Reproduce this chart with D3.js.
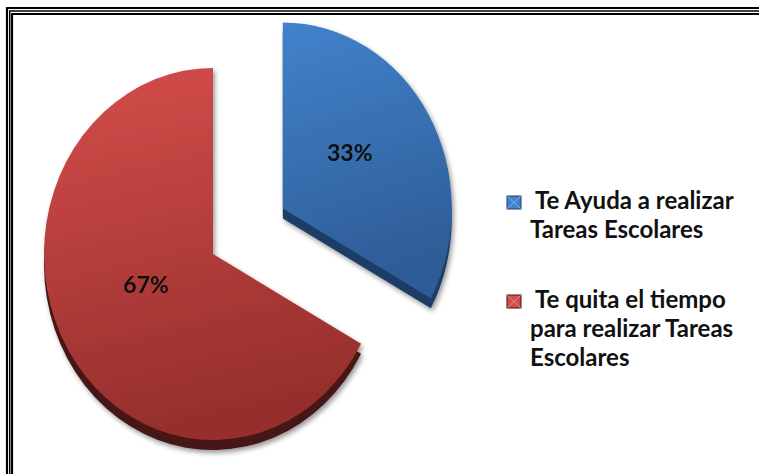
<!DOCTYPE html>
<html>
<head>
<meta charset="utf-8">
<script src="https://cdn.jsdelivr.net/npm/d3@7"></script>
<style>
  html, body { margin: 0; padding: 0; background: #fff; }
  svg { display: block; }
  text { font-family: Lato, "Open Sans", sans-serif; font-weight: bold; fill: #111; }
</style>
</head>
<body>
<script>
const W = 759, H = 474;
// data
const categories = ["Te Ayuda a realizar Tareas Escolares", "Te quita el tiempo para realizar Tareas Escolares"];
const values = [33, 67];
const legendLines = [["Te Ayuda a realizar", "Tareas Escolares"], ["Te quita el tiempo", "para realizar Tareas", "Escolares"]];
const topColors = [["#4282cc", "#2d5c96"], ["#d44d4b", "#962f2d"]];
const sideColors = ["#1f3d66", "#461313"];

const CX = 213, CY = 254, RX = 169, RY = 186, DEPTH = 10, EXPLODE = [0.48, 0];

const svg = d3.select("body").append("svg").attr("width", W).attr("height", H);
const defs = svg.append("defs");

topColors.forEach((c, i) => {
  let g = defs.append("linearGradient").attr("id", "grad" + i)
    .attr("x1", 0).attr("y1", 0).attr("x2", 0.2).attr("y2", 1);
  g.append("stop").attr("offset", "0%").attr("stop-color", c[0]);
  g.append("stop").attr("offset", "100%").attr("stop-color", c[1]);
});

let shadow = defs.append("filter").attr("id", "shadow")
  .attr("x", "-10%").attr("y", "-10%").attr("width", "130%").attr("height", "130%");
shadow.append("feDropShadow").attr("dx", 2).attr("dy", 3).attr("stdDeviation", 2.5)
  .attr("flood-color", "#000").attr("flood-opacity", 0.4);

// frame: three nested lines at top / left
const frame = svg.append("g").attr("fill", "none").attr("stroke", "#000");
[[7, 8, 2.2], [9.7, 11, 1.4], [12, 14, 2.2]].forEach(([x, y, w]) => {
  frame.append("path").attr("d", `M${x},${H} L${x},${y} L${W},${y}`).attr("stroke-width", w);
});

const pie = d3.pie().sort(null).value(d => d);
const arcs = pie(values);
const arc = d3.arc().innerRadius(0).outerRadius(1);

const slices = svg.append("g").attr("filter", "url(#shadow)")
  .selectAll("g").data(arcs).enter().append("g")
  .attr("transform", (d, i) => {
    let m = (d.startAngle + d.endAngle) / 2;
    let ox = EXPLODE[i] * RX * Math.sin(m), oy = -EXPLODE[i] * RY * Math.cos(m);
    return `translate(${CX + ox},${CY + oy})`;
  });

// side (depth) of the slice
slices.append("path")
  .attr("transform", `translate(0,${DEPTH}) scale(${RX},${RY})`)
  .attr("d", arc)
  .attr("fill", (d, i) => sideColors[i]);

// top face
slices.append("path")
  .attr("transform", `scale(${RX},${RY})`)
  .attr("d", arc)
  .attr("fill", (d, i) => `url(#grad${i})`);

slices.append("text")
  .attr("x", d => 0.46 * RX * Math.sin((d.startAngle + d.endAngle) / 2))
  .attr("y", d => -0.46 * RY * Math.cos((d.startAngle + d.endAngle) / 2) - 10)
  .attr("text-anchor", "middle")
  .attr("dominant-baseline", "middle")
  .style("font-size", "23px")
  .text(d => Math.round(d.data) + "%");

// legend
const legendY = d3.scalePoint().domain(categories).range([209, 308]);
const legend = svg.append("g").selectAll("g").data(categories).enter().append("g")
  .attr("transform", d => `translate(507,${legendY(d)})`);

legend.append("rect")
  .attr("x", 0).attr("y", -13).attr("width", 14).attr("height", 13)
  .attr("fill", (d, i) => topColors[i][0])
  .attr("stroke", (d, i) => sideColors[i]).attr("stroke-width", 1);
legend.append("path")
  .attr("d", "M0,-13 L7,-6.5 L14,-13 M0,0 L7,-6.5 L14,0")
  .attr("fill", "none").attr("stroke", "rgba(255,255,255,0.35)").attr("stroke-width", 1);

legend.append("text")
  .selectAll("tspan")
  .data((d, i) => legendLines[i])
  .enter().append("tspan")
  .attr("x", (t, j) => j === 0 ? 28 : 23)
  .attr("y", (t, j) => j * 29)
  .style("font-size", "24px")
  .text(t => t);
</script>
</body>
</html>
